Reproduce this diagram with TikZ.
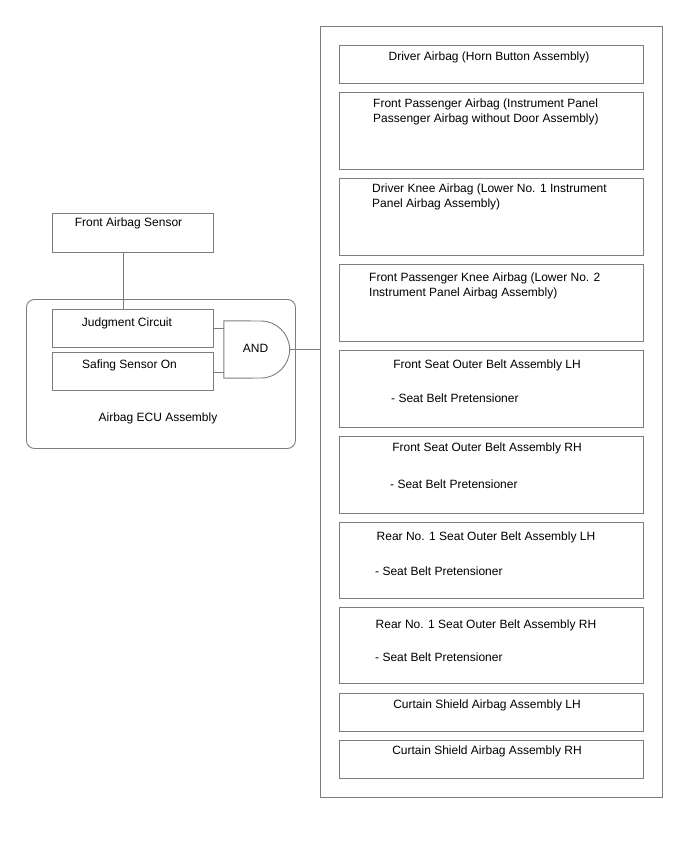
\documentclass[tikz,border=0pt]{standalone}
\usepackage{fontspec}
\setmainfont{Liberation Sans}
\definecolor{linegray}{RGB}{125,125,125}
\tikzset{
  txt/.style={font=\fontsize{12}{15}\selectfont, inner sep=0pt, text=black},
  boxr/.style={draw=linegray, line width=0.9pt, anchor=north west, inner sep=0pt},
  conn/.style={draw=linegray, line width=0.9pt},
}
\begin{document}
\begin{tikzpicture}[x=1pt,y=-1pt]
\useasboundingbox (0,0) rectangle (688,852);
\fill[white] (0,0) rectangle (688,852);

% outer container
\node[boxr, minimum width=342pt, minimum height=771pt] (outer) at (320,26) {};

% right boxes
\node[boxr, minimum width=304pt, minimum height=38pt] (b1) at (339,45) {};
\node[boxr, minimum width=304pt, minimum height=77pt] (b2) at (339,92) {};
\node[boxr, minimum width=304pt, minimum height=77pt] (b3) at (339,178) {};
\node[boxr, minimum width=304pt, minimum height=77pt] (b4) at (339,264) {};
\node[boxr, minimum width=304pt, minimum height=77pt] (b5) at (339,350) {};
\node[boxr, minimum width=304pt, minimum height=77pt] (b6) at (339,436) {};
\node[boxr, minimum width=304pt, minimum height=76pt] (b7) at (339,522) {};
\node[boxr, minimum width=304pt, minimum height=76pt] (b8) at (339,607) {};
\node[boxr, minimum width=304pt, minimum height=38pt] (b9) at (339,693) {};
\node[boxr, minimum width=304pt, minimum height=38pt] (b10) at (339,740) {};

% texts in right boxes
\node[txt, anchor=base] (t1) at (489,60.3) {Driver Airbag (Horn Button Assembly)};
\node[txt, anchor=west, align=left] (t2) at (373,111.5) {Front Passenger Airbag (Instrument Panel\\Passenger Airbag without Door Assembly)};
\node[txt, anchor=west, align=left] (t3) at (372,196.5) {Driver Knee Airbag (Lower No. 1 Instrument\\Panel Airbag Assembly)};
\node[txt, anchor=west, align=left] (t4) at (369,285.5) {Front Passenger Knee Airbag (Lower No. 2\\Instrument Panel Airbag Assembly)};
\node[txt, anchor=base] (t5) at (487,368.3) {Front Seat Outer Belt Assembly LH};
\node[txt, anchor=base west] (s5) at (391,402.3) {- Seat Belt Pretensioner};
\node[txt, anchor=base] (t6) at (487,451.3) {Front Seat Outer Belt Assembly RH};
\node[txt, anchor=base west] (s6) at (390,488.3) {- Seat Belt Pretensioner};
\node[txt, anchor=base] (t7) at (486,540.3) {Rear No. 1 Seat Outer Belt Assembly LH};
\node[txt, anchor=base west] (s7) at (375,575.3) {- Seat Belt Pretensioner};
\node[txt, anchor=base] (t8) at (486,628.3) {Rear No. 1 Seat Outer Belt Assembly RH};
\node[txt, anchor=base west] (s8) at (375,661.3) {- Seat Belt Pretensioner};
\node[txt, anchor=base] (t9) at (487,708.3) {Curtain Shield Airbag Assembly LH};
\node[txt, anchor=base] (t10) at (487,754.3) {Curtain Shield Airbag Assembly RH};

% left side
\node[boxr, minimum width=161pt, minimum height=39pt] (sensor) at (52,213) {};
\node[txt, anchor=base] (sensortxt) at (128.5,226.3) {Front Airbag Sensor};

\node[boxr, rounded corners=8pt, minimum width=269pt, minimum height=149pt] (ecu) at (26,299) {};
\node[txt, anchor=base] (ecutxt) at (158,421.3) {Airbag ECU Assembly};

\node[boxr, minimum width=161pt, minimum height=38pt] (judg) at (52,309) {};
\node[txt, anchor=base] (judgtxt) at (127,326.3) {Judgment Circuit};
\node[boxr, minimum width=161pt, minimum height=38pt] (saf) at (52,352) {};
\node[txt, anchor=base] (saftxt) at (129.5,368.3) {Safing Sensor On};

% AND gate
\node[txt, minimum width=65.5pt, minimum height=57pt] (and) at (256.75,349.5) {};
\node[txt, anchor=base] (andtxt) at (255.5,352.8) {AND};
\draw[conn] (and.north west) -- (261,321)
  .. controls (276.7,321) and (289.5,333.8) .. (and.east)
  .. controls (289.5,365.2) and (276.7,378) .. (261,378)
  -- (and.south west) -- cycle;

% connectors
\coordinate (vl) at (123,0);
\draw[conn] (sensor.south -| vl) -- (judg.north -| vl);
\coordinate (in1) at (0,328);
\coordinate (in2) at (0,372);
\draw[conn] (judg.east |- in1) -- (and.west |- in1);
\draw[conn] (saf.east |- in2) -- (and.west |- in2);
\draw[conn] (and.east) -- (outer.west |- and.east);
\end{tikzpicture}
\end{document}
